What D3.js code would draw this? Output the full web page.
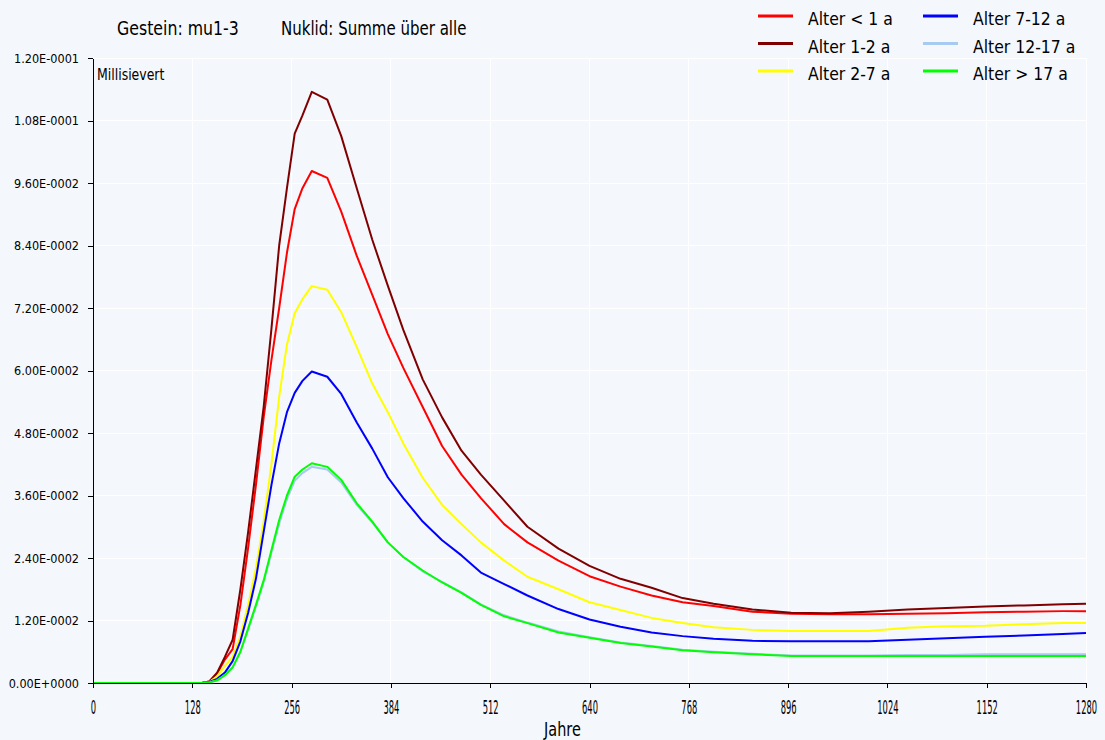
<!DOCTYPE html>
<html>
<head>
<meta charset="utf-8">
<script src="https://cdn.jsdelivr.net/npm/d3@7"></script>
<style>
    body { margin: 0; background: #f4f7fc; }
    text { font-family: "DejaVu Sans", sans-serif; fill: #000; }
</style>
</head>
<body>
<svg id="chart" width="1105" height="740"></svg>
<script>
// Jahre (x values shared by all series)
const years = [0, 140, 150, 160, 170, 180, 190, 200, 210, 220, 230, 240, 250, 260, 270, 282, 302, 320, 340, 360,
    380, 400, 425, 450, 475, 500, 530, 560, 600, 640, 680, 720, 760, 800, 850, 900, 950, 1000, 1050, 1100,
    1150, 1200, 1250, 1280];

// Millisievert per age group
const alterU1 = [0, 0, 0.0003, 0.0018, 0.0045, 0.0065, 0.015, 0.026, 0.038, 0.051, 0.062, 0.072, 0.0826, 0.091, 0.095, 0.0983, 0.097, 0.0905, 0.082, 0.0745,
    0.067, 0.0605, 0.053, 0.0455, 0.040, 0.0355, 0.0305, 0.027, 0.0235, 0.0205, 0.0185, 0.0168, 0.0155, 0.0148, 0.0137, 0.0133, 0.0132, 0.0132, 0.0133, 0.0134,
    0.0136, 0.0137, 0.0138, 0.0138];
const alter1_2 = [0, 0, 0.0003, 0.002, 0.005, 0.0083, 0.018, 0.029, 0.041, 0.053, 0.068, 0.084, 0.095, 0.1055, 0.109, 0.1135, 0.112, 0.105, 0.095, 0.0851,
    0.0763, 0.0678, 0.0583, 0.051, 0.0446, 0.040, 0.035, 0.030, 0.0258, 0.0225, 0.020, 0.0183, 0.0163, 0.0152, 0.0141, 0.0135, 0.0134, 0.0137, 0.0141, 0.0144,
    0.0147, 0.0149, 0.0151, 0.0152];
const alter2_7 = [0, 0, 0.0002, 0.0013, 0.0033, 0.005, 0.009, 0.015, 0.022, 0.031, 0.042, 0.055, 0.065, 0.071, 0.0737, 0.0762, 0.0755, 0.0712, 0.0645, 0.0575,
    0.052, 0.046, 0.0394, 0.0342, 0.0305, 0.027, 0.0235, 0.0204, 0.018, 0.0155, 0.014, 0.0125, 0.0115, 0.0107, 0.0102, 0.010, 0.010, 0.010, 0.0106, 0.0109,
    0.011, 0.0113, 0.0115, 0.0115];
const alter7_12 = [0, 0, 0.0002, 0.0008, 0.002, 0.0042, 0.008, 0.0135, 0.020, 0.029, 0.038, 0.046, 0.052, 0.0557, 0.058, 0.0598, 0.0588, 0.0555, 0.050, 0.045,
    0.0395, 0.0355, 0.031, 0.0274, 0.0245, 0.0212, 0.019, 0.0168, 0.0142, 0.0122, 0.0108, 0.0097, 0.009, 0.0085, 0.0081, 0.008, 0.008, 0.008, 0.0083, 0.0086,
    0.0089, 0.0091, 0.0094, 0.0096];
const alter12_17 = [0, 0, 0.0001, 0.0005, 0.0015, 0.003, 0.006, 0.0102, 0.0146, 0.0193, 0.025, 0.0306, 0.0353, 0.0388, 0.0403, 0.0415, 0.041, 0.0385, 0.0342, 0.0308,
    0.027, 0.0242, 0.0214, 0.0194, 0.0174, 0.0151, 0.013, 0.0116, 0.0099, 0.0088, 0.0078, 0.0071, 0.0064, 0.006, 0.0056, 0.0053, 0.0053, 0.0053, 0.0054, 0.0054,
    0.0055, 0.0055, 0.0055, 0.0055];
const alterU17 = [0, 0, 0.0001, 0.0005, 0.0015, 0.003, 0.006, 0.0105, 0.015, 0.0197, 0.0255, 0.0313, 0.036, 0.0396, 0.041, 0.0422, 0.0415, 0.039, 0.0345, 0.031,
    0.027, 0.0242, 0.0216, 0.0193, 0.0173, 0.015, 0.0128, 0.0115, 0.0097, 0.0087, 0.0077, 0.007, 0.0063, 0.0059, 0.0055, 0.0052, 0.0052, 0.0052, 0.0052, 0.0052,
    0.0052, 0.0052, 0.0052, 0.0052];

const seriesNames = ['Alter < 1 a', 'Alter 1-2 a', 'Alter 2-7 a', 'Alter 7-12 a', 'Alter 12-17 a', 'Alter > 17 a'];
const seriesValues = [alterU1, alter1_2, alter2_7, alter7_12, alter12_17, alterU17];
const seriesColors = ['#ff0000', '#800000', '#ffff00', '#0000ff', '#a6caf0', '#00ff00'];

const xTicks = [0, 128, 256, 384, 512, 640, 768, 896, 1024, 1152, 1280];
const yTicks = [0, 0.012, 0.024, 0.036, 0.048, 0.06, 0.072, 0.084, 0.096, 0.108, 0.12];
const yTickLabels = ['0.00E+0000', '1.20E-0002', '2.40E-0002', '3.60E-0002', '4.80E-0002', '6.00E-0002',
    '7.20E-0002', '8.40E-0002', '9.60E-0002', '1.08E-0001', '1.20E-0001'];

const titleParts = ['Gestein: mu1-3', 'Nuklid: Summe über alle'];
const yUnit = 'Millisievert';
const xLabel = 'Jahre';

let svg = d3.select('#chart');
let plot = { left: 93, right: 1086, top: 58, bottom: 683 };

// squeeze text horizontally, the source font is tall and narrow
function squeeze(sel, k) {
    sel.each(function () {
        let w = this.getComputedTextLength();
        d3.select(this).attr('textLength', w * k).attr('lengthAdjust', 'spacingAndGlyphs');
    });
}

svg.append('rect').attr('width', 1105).attr('height', 740).attr('fill', '#f4f7fc');

let x = d3.scaleLinear().domain([0, 1280]).range([plot.left, plot.right]);
let y = d3.scaleLinear().domain([0, 0.12]).range([plot.bottom, plot.top]);

// grid
let grid = svg.append('g').attr('stroke', '#ffffff').attr('stroke-width', 1).attr('shape-rendering', 'crispEdges');
grid.selectAll('.gx').data(xTicks).enter().append('line')
    .attr('x1', d => x(d)).attr('x2', d => x(d))
    .attr('y1', plot.top).attr('y2', plot.bottom);
grid.selectAll('.gy').data(yTicks).enter().append('line')
    .attr('x1', plot.left).attr('x2', plot.right)
    .attr('y1', d => y(d)).attr('y2', d => y(d));

// lines
let line = d3.line()
    .x((d, i) => x(years[i]))
    .y(d => y(d));
svg.append('g')
    .selectAll('path')
    .data(seriesValues)
    .enter().append('path')
    .attr('d', d => line(d))
    .attr('fill', 'none')
    .attr('stroke', (d, i) => seriesColors[i])
    .attr('stroke-width', 2)
    .attr('stroke-linejoin', 'round');

// axes
let axisX = d3.axisBottom(x).tickValues(xTicks).tickFormat(d => d).tickSize(5).tickSizeOuter(0);
let gx = svg.append('g')
    .attr('transform', `translate(0, ${plot.bottom})`)
    .call(axisX);
// narrow tall digits: scale the label box itself
gx.selectAll('text')
    .attr('y', 31).attr('dy', 0)
    .attr('font-size', 19)
    .attr('font-family', '"DejaVu Sans", sans-serif')
    .attr('transform', 'scale(0.44, 1)');

let axisY = d3.axisLeft(y).tickValues(yTicks).tickFormat((d, i) => yTickLabels[i]).tickSize(5).tickSizeOuter(0);
let gy = svg.append('g')
    .attr('transform', `translate(${plot.left}, 0)`)
    .call(axisY);
gy.selectAll('text')
    .attr('x', -14).attr('dy', '0.35em')
    .attr('font-size', 11.5)
    .attr('font-family', '"DejaVu Sans", sans-serif')
    .call(squeeze, 0.98);

svg.selectAll('.domain, .tick line').attr('stroke', '#000').attr('shape-rendering', 'crispEdges');

// titles
svg.append('text').attr('x', 117).attr('y', 35).attr('font-size', 19).text(titleParts[0]).call(squeeze, 0.83);
svg.append('text').attr('x', 281).attr('y', 35).attr('font-size', 19).text(titleParts[1]).call(squeeze, 0.79);
svg.append('text').attr('x', 97).attr('y', 80).attr('font-size', 16).text(yUnit).call(squeeze, 0.78);
svg.append('text').attr('x', x(640) - 27).attr('y', 736).attr('text-anchor', 'middle')
    .attr('font-size', 19).text(xLabel).call(squeeze, 0.76);

// legend
let legend = svg.append('g');
seriesNames.forEach((name, i) => {
    let col = Math.floor(i / 3), row = i % 3;
    let lx = 758 + col * 165, ly = 16 + row * 27.5;
    legend.append('line')
        .attr('x1', lx).attr('x2', lx + 35)
        .attr('y1', ly).attr('y2', ly)
        .attr('stroke', seriesColors[i]).attr('stroke-width', 3);
    legend.append('text')
        .attr('x', lx + 50).attr('y', ly + 9)
        .attr('font-size', 18)
        .text(name)
        .call(squeeze, 0.87);
});
</script>
</body>
</html>
